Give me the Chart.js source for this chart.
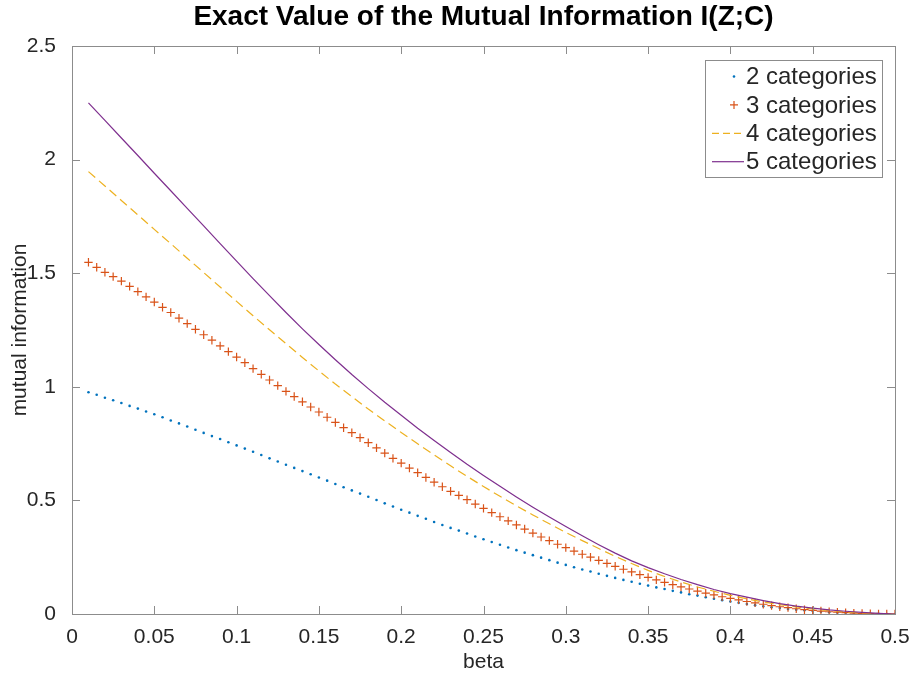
<!DOCTYPE html>
<html>
<head>
<meta charset="utf-8">
<title>Exact Value of the Mutual Information I(Z;C)</title>
<script src="https://cdn.jsdelivr.net/npm/chart.js@4.4.0/dist/chart.umd.min.js"></script>
<style>
  html, body { margin: 0; background: #fff; }
  #wrap { width: 914px; height: 678px; }
</style>
</head>
<body>
<div id="wrap"><canvas id="miChart" width="914" height="678"></canvas></div>
<script>
// beta grid of the marker series (2 and 3 categories)
const betaFine = [
  0.01,0.015,0.02,0.025,0.03,0.035,0.04,0.045,0.05,0.055,
  0.06,0.065,0.07,0.075,0.08,0.085,0.09,0.095,0.1,0.105,
  0.11,0.115,0.12,0.125,0.13,0.135,0.14,0.145,0.15,0.155,
  0.16,0.165,0.17,0.175,0.18,0.185,0.19,0.195,0.2,0.205,
  0.21,0.215,0.22,0.225,0.23,0.235,0.24,0.245,0.25,0.255,
  0.26,0.265,0.27,0.275,0.28,0.285,0.29,0.295,0.3,0.305,
  0.31,0.315,0.32,0.325,0.33,0.335,0.34,0.345,0.35,0.355,
  0.36,0.365,0.37,0.375,0.38,0.385,0.39,0.395,0.4,0.405,
  0.41,0.415,0.42,0.425,0.43,0.435,0.44,0.445,0.45,0.455,
  0.46,0.465,0.47,0.475,0.48,0.485,0.49,0.495,0.5
];
// beta grid of the line series (4 and 5 categories)
const betaLine = [
  0.01,0.02,0.03,0.04,0.05,0.06,0.07,0.08,0.09,0.1,
  0.11,0.12,0.13,0.14,0.15,0.16,0.17,0.18,0.19,0.2,
  0.21,0.22,0.23,0.24,0.25,0.26,0.27,0.28,0.29,0.3,
  0.31,0.32,0.33,0.34,0.35,0.36,0.37,0.38,0.39,0.4,
  0.41,0.42,0.43,0.44,0.45,0.46,0.47,0.48,0.49,0.5
];

const mi2 = [
  .976,.965,.952,.941,.929,.916,.904,.891,.879,.866,
  .852,.839,.825,.811,.797,.783,.770,.756,.742,.728,
  .714,.700,.685,.671,.657,.643,.629,.615,.601,.587,
  .572,.558,.544,.530,.516,.502,.487,.473,.459,.446,
  .432,.419,.405,.392,.379,.367,.354,.341,.329,.317,
  .305,.293,.281,.270,.259,.248,.237,.226,.216,.206,
  .196,.187,.177,.168,.159,.150,.142,.133,.125,.117,
  .110,.102,.095,.087,.081,.074,.067,.061,.055,.049,
  .044,.039,.034,.030,.026,.022,.019,.016,.013,.010,
  .008,.006,.005,.003,.002,.001,.0005,.0001,0
];
const mi3 = [
  1.548,1.526,1.504,1.485,1.465,1.442,1.419,1.396,1.373,1.350,
  1.327,1.302,1.278,1.253,1.229,1.205,1.180,1.155,1.131,1.106,
  1.080,1.055,1.030,1.005,0.980,0.957,0.934,0.911,0.889,0.866,
  0.843,0.820,0.798,0.776,0.754,0.731,0.708,0.685,0.664,0.642,
  0.622,0.601,0.580,0.560,0.540,0.522,0.503,0.484,0.465,0.446,
  0.428,0.410,0.392,0.374,0.356,0.339,0.323,0.307,0.292,0.277,
  0.263,0.250,0.236,0.223,0.210,0.197,0.185,0.173,0.161,0.150,
  0.139,0.129,0.119,0.110,0.101,0.092,0.084,0.076,0.069,0.062,
  0.055,0.049,0.043,0.037,0.032,0.028,0.023,0.019,0.016,0.013,
  0.010,0.008,0.006,0.004,0.0025,0.0014,0.0006,0.0002,0
];
const mi4 = [
  1.947,1.884,1.820,1.757,1.693,1.630,1.566,1.503,1.439,1.376,
  1.313,1.251,1.190,1.129,1.070,1.012,0.957,0.902,0.850,0.799,
  0.749,0.700,0.652,0.606,0.561,0.518,0.476,0.436,0.397,0.359,
  0.323,0.288,0.254,0.222,0.192,0.165,0.141,0.119,0.100,0.082,
  0.067,0.053,0.041,0.031,0.022,0.015,0.009,0.005,0.002,0
];
const mi5 = [
  2.250,2.173,2.095,2.018,1.940,1.863,1.785,1.708,1.630,1.553,
  1.476,1.401,1.327,1.255,1.186,1.119,1.054,0.992,0.932,0.875,
  0.818,0.764,0.711,0.659,0.610,0.562,0.515,0.470,0.427,0.385,
  0.344,0.305,0.268,0.234,0.204,0.177,0.152,0.129,0.108,0.090,
  0.074,0.059,0.046,0.035,0.026,0.018,0.012,0.007,0.003,0
];

const seriesNames = ['2 categories', '3 categories', '4 categories', '5 categories'];
const xTicks = [0, 0.05, 0.1, 0.15, 0.2, 0.25, 0.3, 0.35, 0.4, 0.45, 0.5];
const yTicks = [0, 0.5, 1, 1.5, 2, 2.5];
const titleText = 'Exact Value of the Mutual Information I(Z;C)';

const BLUE = '#0072BD', ORANGE = '#D95319', YELLOW = '#EDB120', PURPLE = '#7E2F8E';
const AXIS = '#8c8c8c', TEXT = '#262626';
const FONT = '"Liberation Sans", Arial, Helvetica, sans-serif';

Chart.defaults.font.family = FONT;
Chart.defaults.color = TEXT;

const pts = (xs, ys) => xs.map((x, i) => ({ x: x, y: ys[i] }));

// matlab-like box with inward ticks on all four sides
const boxTicks = {
  id: 'boxTicks',
  afterDraw(chart) {
    const { ctx, chartArea: a, scales: { x, y } } = chart;
    const len = 8;
    ctx.save();
    ctx.strokeStyle = AXIS;
    ctx.lineWidth = 1;
    ctx.beginPath();
    xTicks.forEach(v => {
      const px = Math.round(x.getPixelForValue(v)) + 0.5;
      ctx.moveTo(px, a.bottom); ctx.lineTo(px, a.bottom - len);
      ctx.moveTo(px, a.top); ctx.lineTo(px, a.top + len);
    });
    yTicks.forEach(v => {
      const py = Math.round(y.getPixelForValue(v)) + 0.5;
      ctx.moveTo(a.left, py); ctx.lineTo(a.left + len, py);
      ctx.moveTo(a.right, py); ctx.lineTo(a.right - len, py);
    });
    ctx.stroke();
    ctx.strokeRect(Math.round(a.left) + 0.5, Math.round(a.top) + 0.5,
                   Math.round(a.right - a.left), Math.round(a.bottom - a.top));
    // title centred over the axes, as matlab does
    ctx.fillStyle = '#000';
    ctx.font = 'bold 28px ' + FONT;
    ctx.textAlign = 'center';
    ctx.textBaseline = 'middle';
    ctx.fillText(titleText, (a.left + a.right) / 2, 17);
    ctx.restore();
  }
};

// legend box in the upper right corner of the axes
const boxLegend = {
  id: 'boxLegend',
  afterDraw(chart) {
    const { ctx, chartArea: a } = chart;
    const bx = a.right - 13, by = a.top + 14, bw = 177, bh = 117;
    const left = bx - bw;
    ctx.save();
    ctx.fillStyle = '#fff';
    ctx.fillRect(left, by, bw, bh);
    ctx.strokeStyle = AXIS;
    ctx.lineWidth = 1;
    ctx.strokeRect(Math.round(left) + 0.5, Math.round(by) + 0.5, bw, bh);
    ctx.font = '24px ' + FONT;
    ctx.textBaseline = 'middle';
    ctx.textAlign = 'left';
    chart.data.datasets.forEach((ds, i) => {
      const cy = by + 16.5 + i * 28.4;
      const sx0 = left + 7, sx1 = left + 39, sxc = left + 29;
      ctx.strokeStyle = ds.borderColor;
      ctx.fillStyle = ds.borderColor;
      ctx.lineWidth = 1.2;
      ctx.setLineDash([]);
      if (i === 0) {
        ctx.beginPath(); ctx.arc(sxc, cy, 1.3, 0, Math.PI * 2); ctx.fill();
      } else if (i === 1) {
        ctx.beginPath();
        ctx.moveTo(sxc - 4, cy); ctx.lineTo(sxc + 4, cy);
        ctx.moveTo(sxc, cy - 4); ctx.lineTo(sxc, cy + 4);
        ctx.stroke();
      } else {
        if (i === 2) ctx.setLineDash([7, 4]);
        ctx.beginPath(); ctx.moveTo(sx0, cy); ctx.lineTo(sx1, cy); ctx.stroke();
        ctx.setLineDash([]);
      }
      ctx.fillStyle = TEXT;
      ctx.fillText(ds.label, left + 41, cy + 1);
    });
    ctx.restore();
  }
};

const ctx = document.getElementById('miChart').getContext('2d');
const chart = new Chart(ctx, {
  type: 'line',
  data: {
    datasets: [
      {
        label: seriesNames[0], data: pts(betaFine, mi2), showLine: false,
        pointStyle: 'circle', pointRadius: 1.3, pointBorderWidth: 0,
        backgroundColor: BLUE, borderColor: BLUE, pointBackgroundColor: BLUE, order: 4
      },
      {
        label: seriesNames[1], data: pts(betaFine, mi3), showLine: false,
        pointStyle: 'cross', pointRadius: 4.2, pointBorderWidth: 1.2,
        backgroundColor: ORANGE, borderColor: ORANGE, pointBorderColor: ORANGE, order: 3
      },
      {
        label: seriesNames[2], data: pts(betaLine, mi4), pointRadius: 0,
        borderColor: YELLOW, borderWidth: 1.2, borderDash: [9, 5], tension: 0, order: 2
      },
      {
        label: seriesNames[3], data: pts(betaLine, mi5), pointRadius: 0,
        borderColor: PURPLE, borderWidth: 1.2, tension: 0, order: 1
      }
    ]
  },
  options: {
    responsive: false,
    animation: false,
    layout: { padding: { left: 0, right: 19, top: 46, bottom: 0 } },
    plugins: {
      legend: { display: false },
      tooltip: { enabled: false },
      title: { display: false }
    },
    scales: {
      x: {
        type: 'linear', min: 0, max: 0.5,
        afterFit(s) { s.height = 64; },
        afterBuildTicks(s) { s.ticks = xTicks.map(v => ({ value: v })); },
        grid: { display: false },
        border: { display: false },
        ticks: {
          padding: 3, font: { size: 21 }, color: TEXT, maxRotation: 0, autoSkip: false,
          callback: v => String(Math.round(v * 100) / 100)
        },
        title: { display: true, text: 'beta', font: { size: 21 }, color: TEXT, padding: { top: 0, bottom: 3 } }
      },
      y: {
        min: 0, max: 2.5,
        afterFit(s) { s.width = 72; },
        afterBuildTicks(s) { s.ticks = yTicks.map(v => ({ value: v })); },
        grid: { display: false },
        border: { display: false },
        ticks: {
          padding: 8, font: { size: 21 }, color: TEXT,
          callback: v => String(v)
        },
        title: { display: true, text: 'mutual information', font: { size: 21 }, color: TEXT, padding: { top: 8, bottom: 0 } }
      }
    }
  },
  plugins: [boxTicks, boxLegend]
});
</script>
</body>
</html>
